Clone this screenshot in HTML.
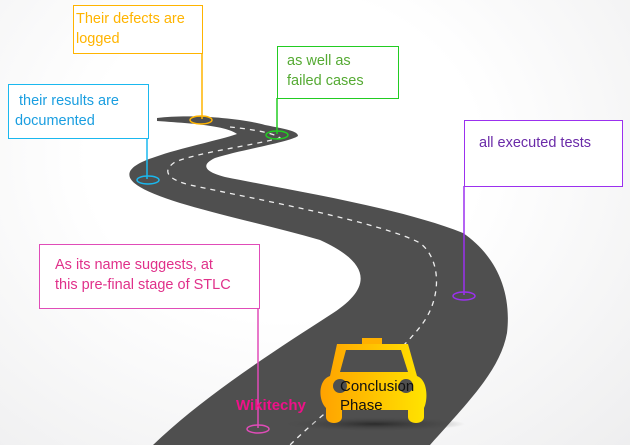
<!DOCTYPE html>
<html><head><style>
body{margin:0;width:630px;height:445px;overflow:hidden;background:radial-gradient(ellipse at 45% 35%,#ffffff 40%,#eeeeef 100%);font-family:"Liberation Sans",sans-serif}
.b{position:absolute;box-sizing:border-box;border:1.5px solid;background:#fff;font-size:14.5px;line-height:20px}
</style></head><body>
<svg width="630" height="445" style="position:absolute;left:0;top:0">
<defs>
<linearGradient id="cg" x1="0" x2="1"><stop offset="0" stop-color="#ffa200"/><stop offset="1" stop-color="#ffe400"/></linearGradient>
<radialGradient id="sh"><stop offset="0" stop-color="#222" stop-opacity=".8"/><stop offset="1" stop-color="#444" stop-opacity="0"/></radialGradient>
</defs>
<path fill="#4f4f4f" d="M157,118 C190,114 240,118 265,125 C285,129 298,131 298,136 C290,142 240,150 215,158 C200,165 205,172 225,177 C300,192 400,208 463,233 C495,255 512,290 507,333 C500,370 470,400 430,445 L153,445 C200,400 260,360 330,315 C370,290 375,265 320,240 C250,220 170,205 140,187 C120,175 130,165 155,157 C180,148 220,140 237,134 C225,125 185,123 157,121 Z"/>
<path fill="none" stroke="#eee" stroke-width="1.3" stroke-dasharray="5,5" d="M230,127 C250,129 275,133 280,138 C250,146 200,152 175,162 C160,172 170,180 190,185 C260,200 380,222 420,243 C442,260 442,300 420,327 C390,365 330,405 290,445"/>
<g fill="none" stroke-width="1.5">
<path stroke="#ffb400" d="M202,53V119"/><ellipse cx="201" cy="120" rx="11" ry="4" stroke="#ffb400"/>
<path stroke="#22cc22" d="M277,98V134"/><ellipse cx="277" cy="135" rx="11" ry="4" stroke="#22cc22"/>
<path stroke="#1ab8ef" d="M147,138V179"/><ellipse cx="148" cy="180" rx="11" ry="4" stroke="#1ab8ef"/>
<path stroke="#9b30ef" d="M464,186V295"/><ellipse cx="464" cy="296" rx="11" ry="4" stroke="#9b30ef"/>
<path stroke="#e04cb8" d="M258,308V428"/><ellipse cx="258" cy="429" rx="11" ry="4" stroke="#e04cb8"/>
</g>
<ellipse cx="375" cy="424" rx="90" ry="7" fill="url(#sh)"/>
<rect x="362" y="338" width="20" height="8" fill="#ffb000"/>
<path fill="url(#cg)" d="M337,344 L408,344 L417,376 C428,380 428,400 424,408 L424,417 C424,425 408,425 408,417 L408,410 L342,410 L342,417 C342,425 326,425 326,417 L326,408 C318,400 318,380 330,376 Z"/>
<path fill="#4f4f4f" d="M346,350 L401,350 L408,372 L340,372 Z"/>
<circle cx="340" cy="386" r="7" fill="#4f4f4f"/><circle cx="406" cy="386" r="7" fill="#4f4f4f"/>
<text x="340" y="391" font-size="15" fill="#111">Conclusion</text>
<text x="340" y="410" font-size="15" fill="#111">Phase</text>
<text x="236" y="410" font-size="15" font-weight="bold" fill="#ee1188">Wikitechy</text>
</svg>
<div class="b" style="left:73px;top:5px;width:130px;height:49px;border-color:#ffb400;color:#ffb400;padding:3px 0 0 2px">Their defects are logged</div>
<div class="b" style="left:277px;top:46px;width:122px;height:53px;border-color:#22cc22;color:#55aa33;padding:4px 0 0 9px">as well as<br>failed cases</div>
<div class="b" style="left:8px;top:84px;width:141px;height:55px;border-color:#1ab8ef;color:#1a9ee0;padding:6px 0 0 6px">&nbsp;their results are<br>documented</div>
<div class="b" style="left:464px;top:120px;width:159px;height:67px;border-color:#9b30ef;color:#6a2aa8;padding:12px 0 0 14px">all executed tests</div>
<div class="b" style="left:39px;top:244px;width:221px;height:65px;border-color:#e04cb8;color:#e0308a;padding:10px 0 0 15px">As its name suggests, at<br>this pre-final stage of STLC</div>
</body></html>
